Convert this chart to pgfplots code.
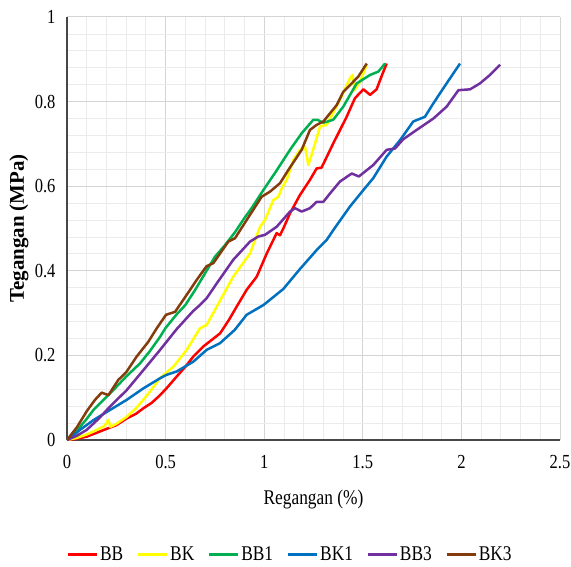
\documentclass[border=0pt]{standalone}
\usepackage{fontspec}
\setmainfont{Liberation Serif}[FakeStretch=0.83]
\newfontfamily\ylabfont{Liberation Serif}
\usepackage{pgfplots}
\pgfplotsset{compat=1.18}
\definecolor{cBB}{HTML}{FF0000}
\definecolor{cBK}{HTML}{FFFF00}
\definecolor{cBBa}{HTML}{00B050}
\definecolor{cBKa}{HTML}{0070C0}
\definecolor{cBBc}{HTML}{7030A0}
\definecolor{cBKc}{HTML}{843C0C}
\begin{document}
\begin{tikzpicture}
\begin{axis}[
  scale only axis, width=493bp, height=423bp,
  xmin=0, xmax=2.5, ymin=0, ymax=1,
  xtick={0,0.5,1,1.5,2,2.5},
  ytick={0,0.2,0.4,0.6,0.8,1},
  minor x tick num=4, minor y tick num=4,
  grid=both,
  major grid style={draw=black!17, line width=1bp},
  minor grid style={draw=black!8, line width=0.8bp},
  axis x line*=bottom, axis y line*=left,
  axis line style={-, draw=black!72, line width=1.6bp},
  every outer x axis line/.append style={-},
  every outer y axis line/.append style={-},
  major tick length=0pt, minor tick length=0pt,
  tick style={draw=none},
  ticklabel style={font=\fontsize{20}{20}\selectfont},
  /pgf/number format/assume math mode=true,
  xticklabel style={yshift=-12bp},
  yticklabel style={xshift=-8bp},
  xlabel={Regangan (\%)},
  ylabel={Tegangan (MPa)},
  xlabel style={font=\fontsize{21}{21}\selectfont, at={(axis description cs:0.5,-0.1395)}, anchor=center},
  ylabel style={font=\ylabfont\bfseries\fontsize{21}{21}\selectfont, at={(axis description cs:-0.0974,0.5)}, anchor=center},
  legend columns=6,
  legend style={draw=none, fill=none, at={(axis description cs:0.452,-0.2695)}, anchor=center,
    font=\fontsize{21}{21}\selectfont, nodes={inner sep=1.5bp},
    /tikz/every even column/.append style={column sep=12bp}},
  legend image code/.code={\draw[#1, line width=3bp] (0bp,0bp) -- (29bp,0bp);},
  every axis plot/.append style={line width=2.5bp, mark=none, line join=round},
]
\coordinate (SW) at (rel axis cs:0,0);
\coordinate (NE) at (rel axis cs:1,1);
\addplot[cBB] coordinates {
(0,0) (0.05,0.003) (0.1,0.008) (0.15,0.017) (0.21,0.028) (0.25,0.035) (0.303,0.051)
(0.35,0.062) (0.387,0.075) (0.43,0.088) (0.472,0.106) (0.51,0.125) (0.556,0.15)
(0.6,0.173) (0.64,0.197) (0.691,0.221) (0.735,0.237) (0.776,0.252) (0.82,0.283)
(0.86,0.315) (0.911,0.355) (0.962,0.386) (1.013,0.441) (1.063,0.489) (1.08,0.484)
(1.097,0.5) (1.131,0.536) (1.181,0.579) (1.232,0.615) (1.266,0.642) (1.291,0.644)
(1.35,0.701) (1.418,0.764) (1.46,0.808) (1.503,0.829) (1.537,0.816) (1.57,0.829)
(1.596,0.861) (1.621,0.89)};
\addlegendentry{BB}
\addplot[cBK] coordinates {
(0,0) (0.05,0.005) (0.1,0.013) (0.134,0.02) (0.19,0.033) (0.21,0.048) (0.22,0.031)
(0.25,0.038) (0.303,0.055) (0.35,0.075) (0.387,0.095) (0.43,0.12) (0.472,0.146)
(0.505,0.16) (0.539,0.173) (0.607,0.213) (0.674,0.264) (0.708,0.272) (0.759,0.315)
(0.843,0.386) (0.928,0.441) (0.979,0.504) (1.004,0.52) (1.046,0.567) (1.072,0.575)
(1.089,0.595) (1.114,0.615) (1.148,0.662) (1.182,0.686) (1.207,0.693) (1.224,0.65)
(1.258,0.701) (1.283,0.741) (1.317,0.745) (1.384,0.804) (1.435,0.855) (1.448,0.863)
(1.458,0.827) (1.486,0.847) (1.52,0.887)};
\addlegendentry{BK}
\addplot[cBBa] coordinates {
(0,0) (0.05,0.022) (0.1,0.05) (0.134,0.071) (0.19,0.097) (0.243,0.122) (0.3,0.15)
(0.37,0.181) (0.42,0.21) (0.472,0.244) (0.5,0.265) (0.556,0.297) (0.6,0.319)
(0.65,0.355) (0.7,0.394) (0.75,0.433) (0.8,0.46) (0.85,0.49) (0.9,0.525)
(0.936,0.548) (0.996,0.591) (1.06,0.635) (1.131,0.686) (1.19,0.725) (1.249,0.757)
(1.27,0.757) (1.3,0.75) (1.35,0.757) (1.401,0.788) (1.469,0.843) (1.537,0.863)
(1.579,0.871) (1.613,0.89)};
\addlegendentry{BB1}
\addplot[cBKa] coordinates {
(0,0) (0.03,0.01) (0.066,0.024) (0.134,0.047) (0.218,0.071) (0.303,0.095) (0.387,0.122)
(0.472,0.146) (0.505,0.154) (0.556,0.162) (0.64,0.185) (0.708,0.213) (0.776,0.229)
(0.85,0.26) (0.911,0.296) (0.996,0.319) (1.097,0.357) (1.181,0.404) (1.266,0.449)
(1.317,0.473) (1.35,0.496) (1.435,0.552) (1.503,0.591) (1.553,0.619) (1.621,0.67)
(1.689,0.709) (1.756,0.753) (1.815,0.764) (1.858,0.796) (1.925,0.843) (1.993,0.89)};
\addlegendentry{BK1}
\addplot[cBBc] coordinates {
(0,0) (0.05,0.01) (0.1,0.024) (0.16,0.05) (0.218,0.079) (0.303,0.118) (0.387,0.165)
(0.472,0.213) (0.556,0.262) (0.64,0.305) (0.674,0.319) (0.708,0.335) (0.759,0.37)
(0.843,0.426) (0.928,0.469) (0.97,0.481) (1.004,0.485) (1.063,0.504) (1.131,0.54)
(1.156,0.548) (1.19,0.54) (1.232,0.548) (1.266,0.563) (1.3,0.563) (1.334,0.583)
(1.384,0.611) (1.444,0.63) (1.48,0.623) (1.553,0.65) (1.621,0.686) (1.663,0.689)
(1.705,0.711) (1.773,0.733) (1.858,0.76) (1.925,0.788) (1.985,0.827) (2.044,0.829)
(2.094,0.843) (2.145,0.863) (2.196,0.887)};
\addlegendentry{BB3}
\addplot[cBKc] coordinates {
(0,0) (0.05,0.03) (0.1,0.068) (0.142,0.095) (0.176,0.112) (0.21,0.106) (0.26,0.142)
(0.3,0.16) (0.353,0.197) (0.412,0.232) (0.455,0.264) (0.502,0.296) (0.548,0.303)
(0.598,0.337) (0.624,0.355) (0.66,0.38) (0.708,0.411) (0.742,0.418) (0.818,0.469)
(0.852,0.477) (0.911,0.52) (0.987,0.575) (1.029,0.587) (1.08,0.607) (1.122,0.638)
(1.19,0.686) (1.232,0.733) (1.266,0.745) (1.3,0.753) (1.368,0.792) (1.401,0.823)
(1.435,0.839) (1.477,0.859) (1.52,0.89)};
\addlegendentry{BK3}
\end{axis}
\pgfresetboundingbox
\path ([shift={(-67bp,-127bp)}]SW) rectangle ([shift={(11bp,17bp)}]NE);
\end{tikzpicture}
\end{document}
